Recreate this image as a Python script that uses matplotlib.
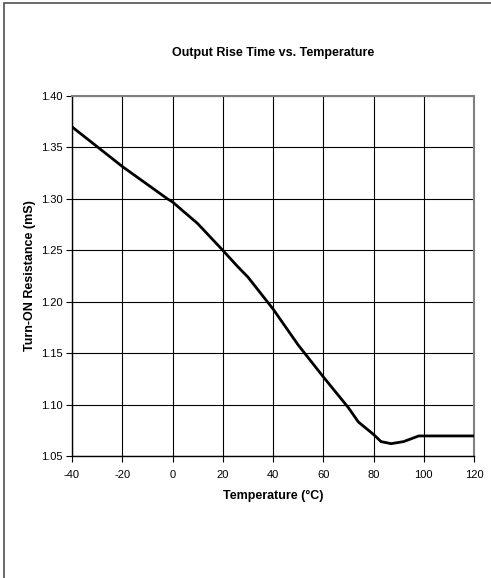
import matplotlib
matplotlib.use("Agg")
import matplotlib.pyplot as plt
from matplotlib.patches import Rectangle

plt.rcParams['font.family'] = ['Liberation Sans', 'DejaVu Sans']
plt.rcParams['axes.unicode_minus'] = False

# curve
temp_c = [-40, -20, -2, 0, 10, 20, 26, 30, 40, 50, 60, 70, 74, 80, 83, 87, 92, 98, 120]
rise_ms = [1.370, 1.3315, 1.300, 1.297, 1.276, 1.250, 1.234, 1.224, 1.193, 1.158,
           1.127, 1.097, 1.083, 1.071, 1.064, 1.062, 1.064, 1.0695, 1.0695]

x_ticks = [-40, -20, 0, 20, 40, 60, 80, 100, 120]
y_ticks = [1.05, 1.10, 1.15, 1.20, 1.25, 1.30, 1.35, 1.40]

W, H = 491, 578
fig = plt.figure(figsize=(W / 100, H / 100), dpi=100)
ax = fig.add_axes([72 / W, 1 - 456 / H, (474 - 72) / W, (456 - 96) / H])

ax.plot(temp_c, rise_ms, color="black", lw=2.0, solid_joinstyle="round", zorder=3)

ax.set_xlim(-40, 120)
ax.set_ylim(1.05, 1.40)
ax.set_xticks(x_ticks)
ax.set_yticks(y_ticks)
ax.set_yticklabels(["%.2f" % v for v in y_ticks])
ax.grid(True, color="black", lw=0.8)
ax.tick_params(direction="out", length=4, width=0.8, labelsize=8, pad=2.5)
ax.tick_params(axis="x", pad=6)

for side in ["top", "right"]:
    ax.spines[side].set_color("#808080")
    ax.spines[side].set_linewidth(1.5)
for side in ["left", "bottom"]:
    ax.spines[side].set_color("black")
    ax.spines[side].set_linewidth(1.0)

ax.set_xlabel("Temperature (°C)", fontsize=9, fontweight="bold", labelpad=7)
ax.set_ylabel("Turn-ON Resistance (mS)", fontsize=9, fontweight="bold", labelpad=4)
fig.text(0.5 * (72 + 474) / W + 0.0, 1 - 53 / H, "Output Rise Time vs. Temperature",
         ha="center", va="center", fontsize=9, fontweight="bold")

# outer chart border (cut off at right/bottom)
fig.patches.append(Rectangle((4 / W, -0.1), 1.2, 1.1 - 3 / H, transform=fig.transFigure,
                             fill=False, edgecolor="#505050", lw=1.2))

fig.savefig("out.png", dpi=100)
